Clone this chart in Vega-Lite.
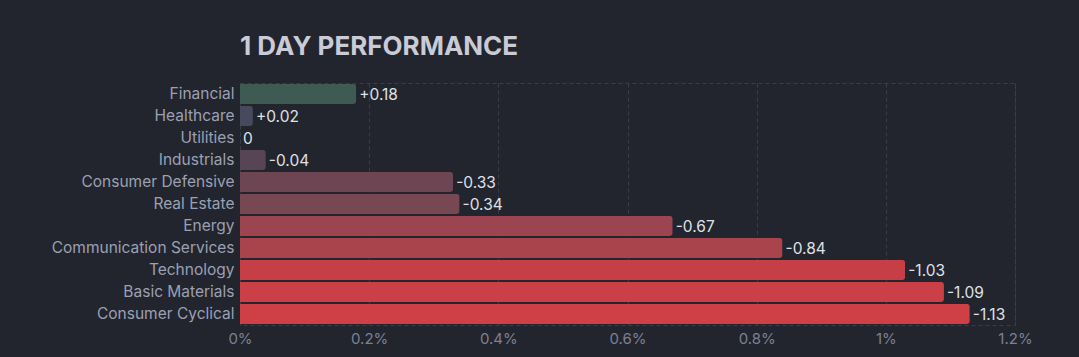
{
  "$schema": "https://vega.github.io/schema/vega-lite/v6.json",
  "width": 775,
  "height": 242,
  "autosize": {"type": "none"},
  "padding": {"left": 240, "top": 83, "right": 64, "bottom": 32},
  "background": "#22252e",
  "title": {
    "text": "1 DAY PERFORMANCE",
    "anchor": "start",
    "frame": "group",
    "font": "Inter",
    "fontSize": 26,
    "fontWeight": "bold",
    "color": "#c9cbd6",
    "baseline": "alphabetic",
    "offset": 2
  },
  "config": {
    "view": {"stroke": "#393d4a", "strokeDash": [4, 3], "strokeWidth": 1},
    "font": "Inter"
  },
  "data": {
    "values": [
      {"sector": "Financial", "magnitude": 0.18, "label": "+0.18"},
      {"sector": "Healthcare", "magnitude": 0.02, "label": "+0.02"},
      {"sector": "Utilities", "magnitude": 0, "label": "0"},
      {"sector": "Industrials", "magnitude": 0.04, "label": "-0.04"},
      {"sector": "Consumer Defensive", "magnitude": 0.33, "label": "-0.33"},
      {"sector": "Real Estate", "magnitude": 0.34, "label": "-0.34"},
      {"sector": "Energy", "magnitude": 0.67, "label": "-0.67"},
      {"sector": "Communication Services", "magnitude": 0.84, "label": "-0.84"},
      {"sector": "Technology", "magnitude": 1.03, "label": "-1.03"},
      {"sector": "Basic Materials", "magnitude": 1.09, "label": "-1.09"},
      {"sector": "Consumer Cyclical", "magnitude": 1.13, "label": "-1.13"}
    ]
  },
  "encoding": {
    "y": {
      "field": "sector",
      "type": "nominal",
      "sort": null,
      "title": null,
      "scale": {"paddingInner": 0.08, "paddingOuter": 0.04},
      "axis": {
        "domain": false,
        "ticks": false,
        "labelPadding": 6,
        "labelFontSize": 15.5,
        "labelLimit": 300,
        "labelColor": "#9ba0b3",
        "labelFont": "Inter",
        "grid": false
      }
    },
    "x": {
      "field": "magnitude",
      "type": "quantitative",
      "title": null,
      "scale": {"domain": [0, 1.2], "nice": false},
      "axis": {
        "values": [0, 0.2, 0.4, 0.6, 0.8, 1, 1.2],
        "labelExpr": "format(datum.value, '.1~f') + '%'",
        "labelFlush": false,
        "domain": false,
        "ticks": false,
        "labelPadding": 6,
        "labelFontSize": 15,
        "labelColor": "#7c8192",
        "labelFont": "Inter",
        "grid": true,
        "gridColor": "#393d4a",
        "gridDash": [4, 3],
        "gridWidth": 1
      }
    }
  },
  "layer": [
    {
      "mark": {"type": "bar", "cornerRadiusEnd": 3},
      "encoding": {
        "color": {
          "field": "sector",
          "type": "nominal",
          "legend": null,
          "scale": {
            "domain": ["Financial", "Healthcare", "Utilities", "Industrials", "Consumer Defensive", "Real Estate", "Energy", "Communication Services", "Technology", "Basic Materials", "Consumer Cyclical"],
            "range": ["#3e5a52", "#474a5c", "#4c4858", "#574556", "#6e4552", "#784852", "#9c4550", "#aa444c", "#c63f47", "#cb3f46", "#cf3f46"]
          }
        }
      }
    },
    {
      "mark": {"type": "text", "align": "left", "dx": 3, "dy": 1, "font": "Inter", "fontSize": 15.5, "color": "#dfe1e8", "baseline": "middle"},
      "encoding": {"text": {"field": "label"}}
    }
  ]
}
